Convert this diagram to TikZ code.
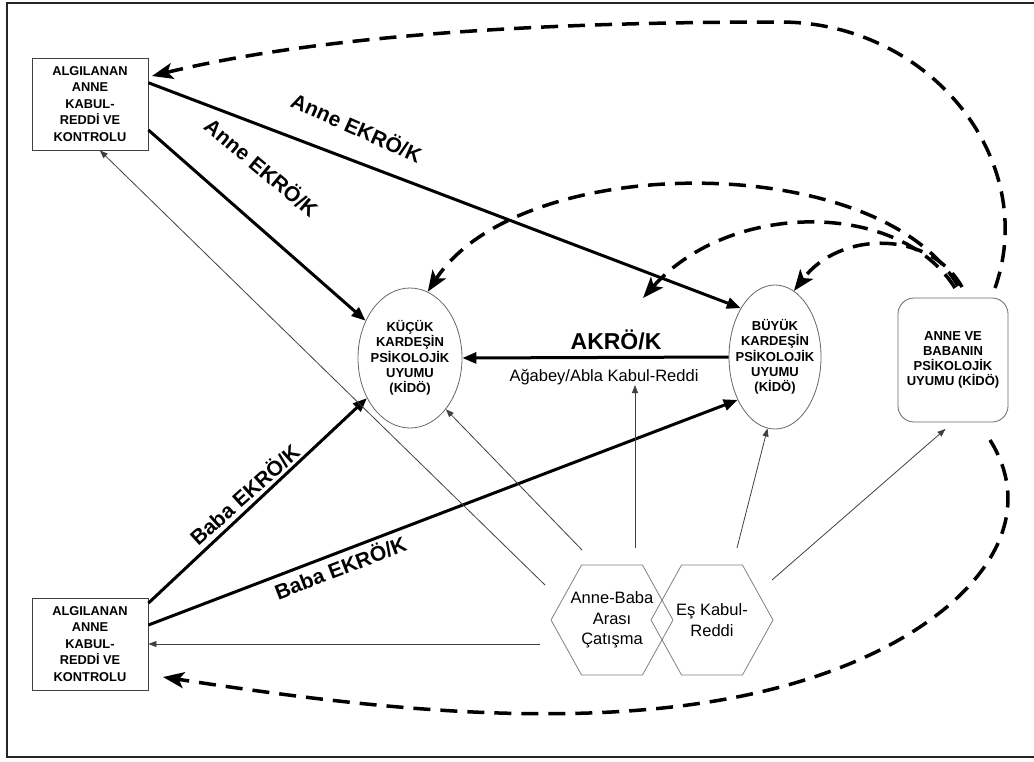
\documentclass[tikz,border=0pt]{standalone}
\usepackage{fontspec}
\setmainfont{Liberation Sans}
\usetikzlibrary{arrows.meta,shapes.geometric}

\tikzset{
  dikdortgen/.style={draw=black!75, line width=0.8pt, minimum width=116pt, minimum height=92pt,
    inner sep=0pt, align=center, font=\bfseries\fontsize{12.8}{16.5}\selectfont},
  uyum/.style={ellipse, draw=black!60, line width=0.8pt, inner sep=0pt, minimum width=104pt, minimum height=140pt},
  uyumyazi/.style={align=center, inner sep=0pt, font=\bfseries\fontsize{13}{15.3}\selectfont},
  ebeveynkutu/.style={draw=black!60, line width=0.8pt, rounded corners=16pt, minimum width=110pt,
    minimum height=124pt, inner sep=0pt, align=center, font=\bfseries\fontsize{13}{15}\selectfont},
  altigen/.style={regular polygon, regular polygon sides=6, draw=black!50, line width=0.8pt,
    minimum size=122pt, inner sep=0pt},
  altigenyazi/.style={align=center, inner sep=0pt, font=\fontsize{16.5}{20.5}\selectfont},
  etiket/.style={font=\bfseries\fontsize{21}{24}\selectfont, inner sep=0pt},
  kalin/.style={line width=3pt, -{Triangle[length=14pt,width=11pt]}},
  ince/.style={black!75, line width=0.8pt, -{Triangle[length=8pt,width=6pt]}},
  kesik/.style={line width=3.5pt, dash pattern=on 17pt off 10pt, -{Stealth[length=21pt,width=16pt,inset=5pt]}}
}

\begin{document}
\begin{tikzpicture}[x=1pt,y=-1pt]
\useasboundingbox (0,0) rectangle (1034,761);

% frame
\draw[line width=2pt, black!85] (7,3) rectangle (1045,757);

% parents' boxes
\node[dikdortgen] (anne) at (90,104) {ALGILANAN\\ANNE\\KABUL-\\REDDİ VE\\KONTROLU};
\node[dikdortgen] (baba) at (90,644) {ALGILANAN\\ANNE\\KABUL-\\REDDİ VE\\KONTROLU};

% siblings
\node[uyum] (kucuk) at (410,358) {};
\node[uyumyazi] (kucukyazi) at (kucuk) {KÜÇÜK\\KARDEŞİN\\PSİKOLOJİK\\UYUMU\\(KİDÖ)};
\node[uyum, minimum width=92pt, minimum height=144pt] (buyuk) at (775,357) {};
\node[uyumyazi] (buyukyazi) at (buyuk) {BÜYÜK\\KARDEŞİN\\PSİKOLOJİK\\UYUMU\\(KİDÖ)};

% parents' adjustment
\node[ebeveynkutu] (ebeveyn) at (953,360) {ANNE VE\\BABANIN\\PSİKOLOJİK\\UYUMU (KİDÖ)};

% conflict hexagons
\node[altigen, yscale=1.04] (catisma) at (612,620) {};
\node[altigenyazi] (catismayazi) at (catisma) {Anne-Baba\\Arası\\Çatışma};
\node[altigen, yscale=1.04] (es) at (712,620) {};
\node[altigenyazi] (esyazi) at (es) {Eş Kabul-\\Reddi};

% sibling acceptance-rejection
\draw[kalin] (buyuk.west) -- (kucuk.east);
\node[font=\bfseries\fontsize{23}{26}\selectfont, inner sep=0pt] (akro) at (616,340) {AKRÖ/K};
\node[font=\fontsize{16.5}{20}\selectfont, inner sep=0pt] (agabey) at (604,377) {Ağabey/Abla Kabul-Reddi};

% parents to children
\draw[kalin] (anne.20) -- (buyuk.125);
\draw[kalin] (anne.-24) -- (kucuk.140);
\draw[kalin] (baba.35) -- (kucuk.-137);
\draw[kalin] (baba.18) -- (buyuk.-131);
\node[etiket, rotate=-24] (ek1) at (357,127) {Anne EKRÖ/K};
\node[etiket, rotate=-40] (ek2) at (262,167) {Anne EKRÖ/K};
\node[etiket, rotate=42] (ek3) at (244,494) {Baba EKRÖ/K};
\node[etiket, rotate=21] (ek4) at (340,567) {Baba EKRÖ/K};

% thin arrows from the conflict
\coordinate (c1) at (582,550);
\coordinate (c2) at (635,548);
\coordinate (c3) at (737,548);
\coordinate (c4) at (772,580);
\coordinate (c5) at (545,585);
\coordinate (c6) at (540,644);
\draw[ince] (c1) -- (kucuk.-55);
\draw[ince] (c2) -- (c2 |- agabey.south);
\draw[ince] (c3) -- (buyuk.-96);
\draw[ince, shorten >=10pt] (c4) -- (ebeveyn.south);
\draw[ince] (c5) -- (anne.-78);
\draw[ince] (c6) -- (baba.east);

% dashed feedback arrows
\coordinate (d1) at (995,288);
\coordinate (d2) at (958,286);
\coordinate (d3) at (955,288);
\coordinate (d4) at (962,287);
\coordinate (d5) at (990,440);
\coordinate (anneust) at (152,76);
\coordinate (orta) at (643,298);
\coordinate (babaalt) at (163,677);
\draw[kesik] (d1) .. controls (1040,160) and (930,22) .. (780,22) .. controls (500,22) and (300,40) .. (anneust);
\draw[kesik] (d2) .. controls (880,150) and (520,150) .. (kucuk.75);
\draw[kesik] (d3) .. controls (900,200) and (730,200) .. (orta);
\draw[kesik] (d4) .. controls (930,230) and (840,230) .. (buyuk.74);
\draw[kesik] (d5) .. controls (1040,520) and (980,600) .. (880,650) .. controls (680,750) and (380,710) .. (babaalt);

\end{tikzpicture}
\end{document}
